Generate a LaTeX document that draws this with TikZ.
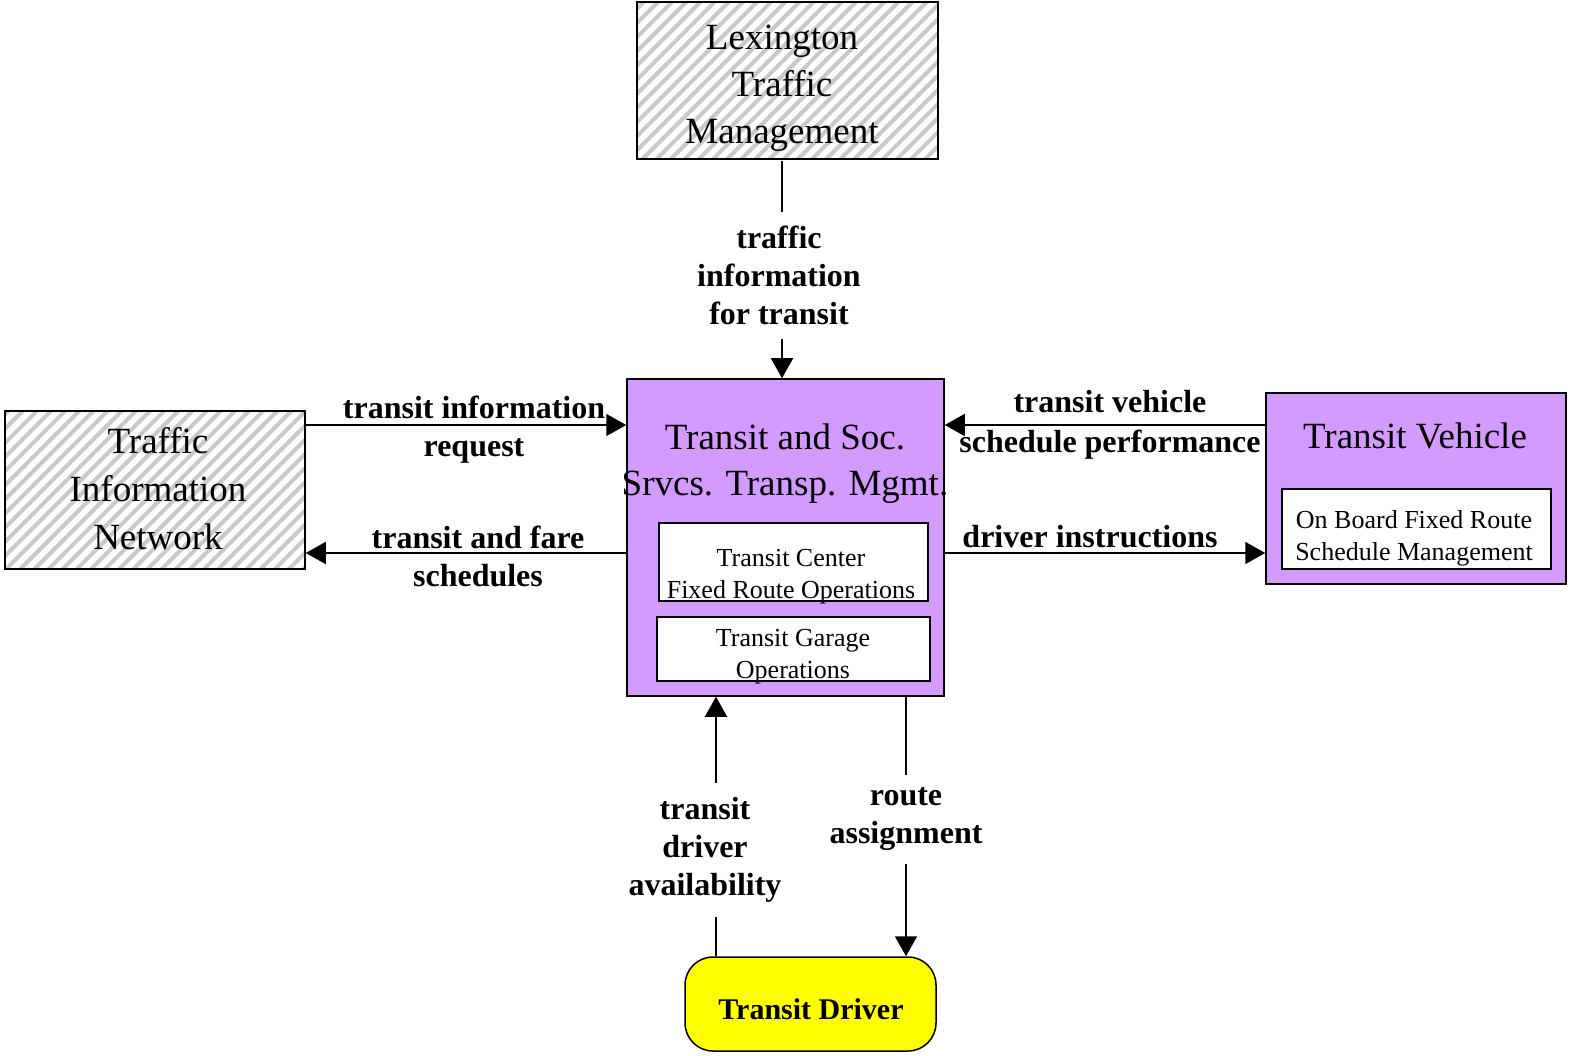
\documentclass[tikz,border=0pt]{standalone}
\usepackage{fontspec}
\setmainfont{Liberation Serif}
\usetikzlibrary{arrows.meta,patterns.meta,calc}
\definecolor{purp}{RGB}{211,155,255}
\definecolor{hatchc}{RGB}{200,200,200}
\definecolor{drvyellow}{RGB}{255,255,0}
\begin{document}
\begin{tikzpicture}[x=1pt,y=-1pt,
  box/.style={draw, line width=1.5pt, inner sep=0pt, anchor=center},
  hatchbox/.style={box, pattern={Lines[angle=45,distance=10pt,line width=4pt]}, pattern color=hatchc},
  purpbox/.style={box, fill=purp},
  inbox/.style={box, fill=white},
  bigtxt/.style={font=\fontsize{37}{47}\selectfont, align=center, inner sep=0pt},
  smalltxt/.style={font=\fontsize{26}{32}\selectfont, align=center, inner sep=0pt},
  lbl/.style={font=\fontsize{32}{38}\selectfont\bfseries, align=center, inner sep=0pt},
  vlbl/.style={lbl, fill=white, inner xsep=3pt, inner ysep=14pt, yshift=-4pt},
  conn/.style={line width=1.5pt},
  arr/.style={conn, -{Triangle[length=20pt,width=22pt]}}
]
\useasboundingbox[fill=white] (0,0) rectangle (1571,1056);

% boxes
\node[hatchbox, minimum width=301pt, minimum height=157pt] (ltm) at (787.5,80.5) {};
\node[bigtxt] (ltmt) at (782,88) {Lexington\\Traffic\\Management};

\node[hatchbox, minimum width=300pt, minimum height=158pt] (tin) at (155,490) {};
\node[bigtxt, font=\fontsize{37}{48}\selectfont] (tint) at (158,489) {Traffic\\Information\\Network};

\node[purpbox, minimum width=317pt, minimum height=317pt] (tsm) at (785.5,537.5) {};
\node[bigtxt, font=\fontsize{37}{46}\selectfont] (tsmt) at (785,464) {Transit and Soc.\\Srvcs. Transp. Mgmt.};
\node[inbox, minimum width=269pt, minimum height=78pt] (ic1) at (793.5,562) {};
\node[smalltxt] (ic1t) at (791,577) {Transit Center\\Fixed Route Operations};
\node[inbox, minimum width=273pt, minimum height=64pt] (ic2) at (793.5,649) {};
\node[smalltxt] (ic2t) at (793,657) {Transit Garage\\Operations};

\node[purpbox, minimum width=300pt, minimum height=191pt] (tv) at (1416,488.5) {};
\node[bigtxt] (tvt) at (1415,436) {Transit Vehicle};
\node[inbox, minimum width=269pt, minimum height=80pt] (tv1) at (1416.5,529) {};
\node[smalltxt] (tv1t) at (1414,538) {On Board Fixed Route\\Schedule Management};

\node[box, fill=drvyellow, rounded corners=28pt, minimum width=251pt, minimum height=94pt] (td) at (810.5,1004) {};
\node[font=\fontsize{30}{36}\selectfont\bfseries, inner sep=0pt] (tdt) at (811,1009) {Transit Driver};

% helper coordinates
\coordinate (xA) at (782,0);
\coordinate (xB) at (716,0);
\coordinate (xC) at (906,0);
\coordinate (yA) at (0,425);
\coordinate (yB) at (0,553);

% connectors
\draw[arr] (ltm.south -| xA) -- node[vlbl, pos=0.51, xshift=-3pt] (l1) {traffic\\information\\for transit} (tsm.north -| xA);

\draw[arr] (tin.east |- yA) -- (tsm.west |- yA);
\node[lbl] (l2) at (474,430) {transit information\\request};

\draw[arr] (tsm.west |- yB) -- (tin.east |- yB);
\node[lbl] (l3) at (478,556) {transit and fare\\schedules};

\draw[arr] (tv.west |- yA) -- (tsm.east |- yA);
\node[lbl, font=\fontsize{32}{40}\selectfont\bfseries] (l4) at (1110,424.5) {transit vehicle\\schedule performance};

\draw[arr] (tsm.east |- yB) -- (tv.west |- yB);
\node[lbl] (l5) at (1090,537) {driver instructions};

\draw[arr] (td.north -| xB) -- node[vlbl, pos=0.425, xshift=-11pt] (l6) {transit\\driver\\availability} (tsm.south -| xB);

\draw[arr] (tsm.south -| xC) -- node[vlbl, pos=0.456, inner ysep=13pt] (l7) {route\\assignment} (td.north -| xC);
\end{tikzpicture}
\end{document}
